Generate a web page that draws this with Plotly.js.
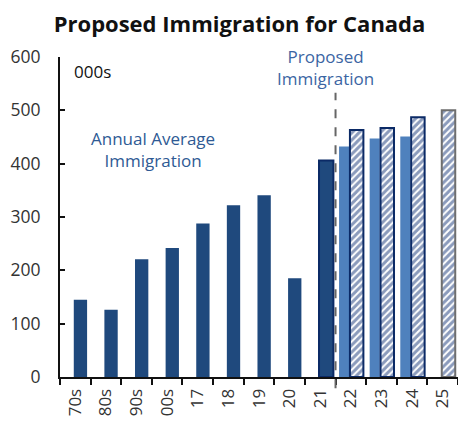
<!DOCTYPE html>
<html>
<head>
<meta charset="utf-8">
<script src="https://cdn.plot.ly/plotly-3.0.1.min.js"></script>
<style>html,body{margin:0;padding:0;background:#fff;}#chart{width:458px;height:423px;}</style>
</head>
<body>
<div id="chart"></div>
<script>
const categories = ['70s','80s','90s','00s','17','18','19','20','21','22','23','24','25'];
const avgCats = ['70s','80s','90s','00s','17','18','19','20'];
const avgValues = [145, 126, 221, 242, 288, 322, 341, 185];
const actualCats = ['21'];
const actualValues = [406];
const prevPlanCats = ['22','23','24'];
const prevPlanValues = [432, 447, 451];
const proposedCats = ['22','23','24','25'];
const proposedValues = [463, 467, 487, 500];
const yTicks = [0,100,200,300,400,500,600];

const FONT = 'Open Sans, sans-serif';
const data = [
  {type:'bar', x:avgCats, y:avgValues, width:0.435, offset:-0.05,
   marker:{color:'#1f497d', line:{width:0}}},
  {type:'bar', x:actualCats, y:actualValues, width:0.47, offset:-0.04,
   marker:{color:'#1f497d', line:{color:'#0b2a66', width:2}}},
  {type:'bar', x:prevPlanCats, y:prevPlanValues, width:0.33, offset:-0.385,
   marker:{color:'#4f81bd', line:{width:0}}},
  {type:'bar', x:proposedCats, y:proposedValues, width:0.44, offset:-0.03,
   marker:{color:'#ffffff',
     line:{color:['#0b2a66','#0b2a66','#0b2a66','#6e6e6e'], width:2},
     pattern:{shape:'/', fgcolor:'#18387a', bgcolor:'#ffffff', size:5, solidity:0.6, fillmode:'overlay'}}}
];

const layout = {
  width:458, height:423,
  margin:{l:60, r:0, t:57, b:46},
  paper_bgcolor:'#fff', plot_bgcolor:'#fff',
  showlegend:false, barmode:'overlay',
  font:{family:FONT, color:'#333'},
  title:{text:'<b>Proposed Immigration for Canada</b>', x:0.523, xanchor:'center', y:0.943, yanchor:'middle',
    font:{family:FONT, size:22, color:'#111'}},
  xaxis:{type:'category', categoryorder:'array', categoryarray:categories, range:[-0.5,12.5],
    showline:true, linecolor:'#111', linewidth:2, ticks:'outside', ticklen:6, tickwidth:2, tickcolor:'#111',
    tickson:'boundaries', tickangle:-90, ticklabelstandoff:3, tickfont:{family:FONT, size:17, color:'#333'},
    showgrid:false, zeroline:false, fixedrange:true},
  yaxis:{range:[0,600], tickvals:yTicks, showline:true, linecolor:'#111', linewidth:2,
    ticks:'inside', ticklen:5, tickwidth:2, tickcolor:'#111', ticklabelstandoff:14,
    tickfont:{family:FONT, size:17.5, color:'#333'}, showgrid:false, zeroline:false, fixedrange:true},
  shapes:[
    {type:'line', xref:'x', yref:'paper', x0:8.5, x1:8.5, y0:-0.035, y1:0.888,
     line:{color:'#666', width:2, dash:'dash'}}
  ],
  annotations:[
    {text:'000s', xref:'paper', yref:'paper', x:0.03, y:0.955, xanchor:'left', yanchor:'middle', showarrow:false,
     font:{family:FONT, size:17, color:'#111'}},
    {text:'Annual Average<br>Immigration', xref:'x', yref:'y', x:2.55, y:427, xanchor:'center', yanchor:'middle', showarrow:false,
     font:{family:FONT, size:17, color:'#2e5a94'}},
    {text:'Proposed<br>Immigration', xref:'x', yref:'y', x:8.18, y:581, xanchor:'center', yanchor:'middle', showarrow:false,
     font:{family:FONT, size:17, color:'#3b65a3'}}
  ]
};
Plotly.newPlot('chart', data, layout, {displayModeBar:false, staticPlot:true});
</script>
</body>
</html>
